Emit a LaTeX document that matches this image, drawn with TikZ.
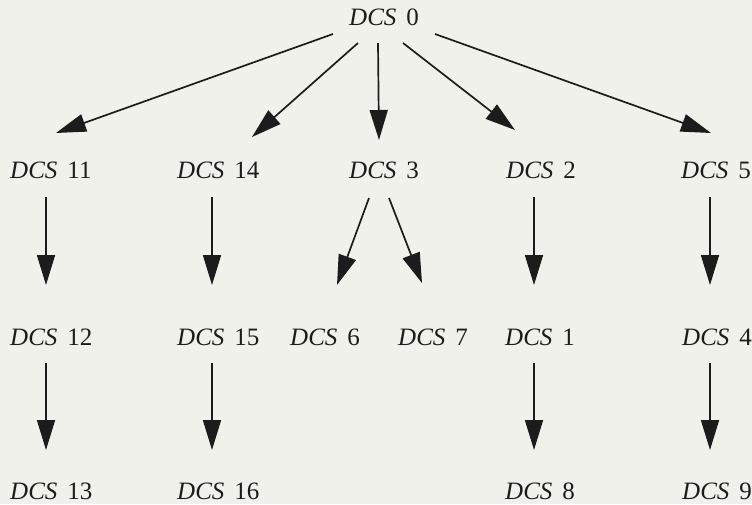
\documentclass[tikz,border=0pt]{standalone}
\usepackage{fontspec}
\setmainfont{Liberation Serif}
\usetikzlibrary{arrows.meta,calc}
\definecolor{paper}{RGB}{241,241,235}
\definecolor{ink}{RGB}{28,28,28}
\tikzset{
  dcs/.style={anchor=base west, inner sep=0pt, text=ink,
    font=\fontsize{25}{29}\selectfont},
  arr/.style={draw=ink, line width=1.7pt,
    -{Triangle[length=30pt,width=18pt]}},
}
\newcommand{\dcslabel}[1]{\textit{DCS}\hspace{0.4em}#1}
\begin{document}
\begin{tikzpicture}[x=1pt,y=-1pt]
  \fill[paper] (0,0) rectangle (752,504);
  \useasboundingbox (0,0) rectangle (752,504);

  % root
  \node[dcs] (d0) at (349,25) {\dcslabel{0}};

  % first level
  \node[dcs] (d11) at (10,178)  {\dcslabel{11}};
  \node[dcs] (d14) at (177,178) {\dcslabel{14}};
  \node[dcs] (d3)  at (349,178) {\dcslabel{3}};
  \node[dcs] (d2)  at (506,178) {\dcslabel{2}};
  \node[dcs] (d5)  at (681,178) {\dcslabel{5}};

  % second level
  \node[dcs] (d12) at (10,345)  {\dcslabel{12}};
  \node[dcs] (d15) at (177,345) {\dcslabel{15}};
  \node[dcs] (d6)  at (290,345) {\dcslabel{6}};
  \node[dcs] (d7)  at (398,345) {\dcslabel{7}};
  \node[dcs] (d1)  at (505,345) {\dcslabel{1}};
  \node[dcs] (d4)  at (682,345) {\dcslabel{4}};

  % third level
  \node[dcs] (d13) at (10,499)  {\dcslabel{13}};
  \node[dcs] (d16) at (177,499) {\dcslabel{16}};
  \node[dcs] (d8)  at (505,499) {\dcslabel{8}};
  \node[dcs] (d9)  at (682,499) {\dcslabel{9}};

  % fan-out from the root
  \draw[arr] ($(d0.base west)+(-16,9)$) -- ($(d11.base west)+(46,-45)$);
  \draw[arr] ($(d0.base west)+(9,18)$)  -- ($(d14.base west)+(75,-41)$);
  \draw[arr] ($(d0.base west)+(29,18)$) -- ($(d3.base west)+(30,-38)$);
  \draw[arr] ($(d0.base west)+(54,18)$) -- ($(d2.base west)+(9,-48)$);
  \draw[arr] ($(d0.base west)+(86,9)$)  -- ($(d5.base west)+(30,-45)$);

  % first to second level
  \draw[arr] ($(d11.base west)+(36,19)$) -- ($(d12.base west)+(36,-60)$);
  \draw[arr] ($(d14.base west)+(35,19)$) -- ($(d15.base west)+(35,-60)$);
  \draw[arr] ($(d3.base west)+(20,20)$)  -- ($(d6.base west)+(47,-60)$);
  \draw[arr] ($(d3.base west)+(40,20)$)  -- ($(d7.base west)+(24,-62)$);
  \draw[arr] ($(d2.base west)+(28,19)$)  -- ($(d1.base west)+(29,-60)$);
  \draw[arr] ($(d5.base west)+(29,19)$)  -- ($(d4.base west)+(28,-60)$);

  % second to third level
  \draw[arr] ($(d12.base west)+(36,18)$) -- ($(d13.base west)+(36,-49)$);
  \draw[arr] ($(d15.base west)+(35,18)$) -- ($(d16.base west)+(35,-49)$);
  \draw[arr] ($(d1.base west)+(29,18)$)  -- ($(d8.base west)+(29,-49)$);
  \draw[arr] ($(d4.base west)+(28,18)$)  -- ($(d9.base west)+(28,-49)$);
\end{tikzpicture}
\end{document}
